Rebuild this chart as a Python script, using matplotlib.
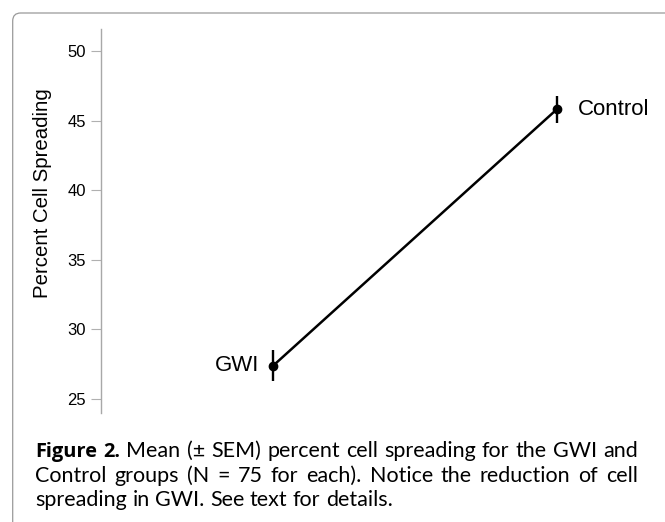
import matplotlib.pyplot as plt
from matplotlib.patches import FancyBboxPatch

groups = ["GWI", "Control"]
means = [27.4, 45.8]
sem = [1.1, 1.0]
yticks = [25, 30, 35, 40, 45, 50]

caption = [
    "Figure 2. Mean (± SEM) percent cell spreading for the GWI and",
    "Control groups (N = 75 for each). Notice the reduction of cell",
    "spreading in GWI. See text for details.",
]

W, H = 665, 522
fig = plt.figure(figsize=(W / 100, H / 100), dpi=100)

# rounded frame, runs off the right and bottom edges
frame = FancyBboxPatch((12.7, -60), 720, 509 + 60, boxstyle="round,pad=0,rounding_size=8",
                       transform=None, facecolor="none", edgecolor="#9a9a9a", linewidth=0.9)
fig.patches.append(frame)

ax = fig.add_axes([101 / W, 1 - 413 / H, (640 - 101) / W, (413 - 29) / H])
ax.set_facecolor("none")
x = list(range(len(groups)))
ax.errorbar(x, means, yerr=sem, fmt="o-", color="black", lw=1.8, elinewidth=1.7,
            capsize=0, markersize=6)

ax.annotate(groups[0], (x[0], means[0]), xytext=(-10, 0), textcoords="offset points",
            ha="right", va="center", fontsize=16, family="Liberation Sans")
ax.annotate(groups[1], (x[1], means[1]), xytext=(15, 0), textcoords="offset points",
            ha="left", va="center", fontsize=16, family="Liberation Sans")

ax.set_xlim(-0.608, 1.294)
ax.set_ylim(23.99, 51.58)
ax.set_yticks(yticks)
ax.set_xticks([])
for s in ["top", "right", "bottom"]:
    ax.spines[s].set_visible(False)
ax.spines["left"].set_color("#a8a8a8")
ax.spines["left"].set_linewidth(1.0)
ax.tick_params(axis="y", length=7.2, width=0.8, color="#b0b0b0", pad=3.6, labelsize=12)
for lab in ax.get_yticklabels():
    lab.set_family("Liberation Sans")

fig.text(43 / W, 1 - 193 / H, "Percent Cell Spreading", rotation=90, ha="center", va="center",
         fontsize=14.7, family="Liberation Sans")

# justified caption
fig.canvas.draw()
r = fig.canvas.get_renderer()
x0, x1 = 35, 638
baselines = [457, 482, 506]
cap_font = "Lato"
bold_font = "Open Sans"


def style(first, j):
    if first and j < 2:
        return dict(family=bold_font, weight="bold")
    return dict(family=cap_font, weight="normal")


def word_widths(words, fs, first):
    out = []
    for j, w in enumerate(words):
        sz = fs * 0.93 if first and j < 2 else fs
        t = fig.text(0, 0, w, fontsize=sz, transform=None, **style(first, j))
        out.append(t.get_window_extent(r).width)
        t.remove()
    return out


def space_width(fs):
    a = fig.text(0, 0, "a a", fontsize=fs, family=cap_font, transform=None)
    b = fig.text(0, 0, "aa", fontsize=fs, family=cap_font, transform=None)
    d = a.get_window_extent(r).width - b.get_window_extent(r).width
    a.remove()
    b.remove()
    return d


fs = 15.5
while True:
    sw = space_width(fs)
    ok = True
    for i, line in enumerate(caption[:-1]):
        words = line.split(" ")
        gap = (x1 - x0 - sum(word_widths(words, fs, i == 0))) / (len(words) - 1)
        if gap < 0.9 * sw:
            ok = False
    if ok:
        break
    fs -= 0.25

sw = space_width(fs)
for i, line in enumerate(caption):
    words = line.split(" ")
    widths = word_widths(words, fs, i == 0)
    if i < len(caption) - 1:
        gap = (x1 - x0 - sum(widths)) / (len(words) - 1)
    else:
        gap = sw
    pos = x0
    for j, (w, wd) in enumerate(zip(words, widths)):
        sz = fs * 0.93 if i == 0 and j < 2 else fs
        fig.text(pos, H - baselines[i], w, fontsize=sz, va="baseline", ha="left",
                 transform=None, **style(i == 0, j))
        pos += wd + gap

fig.savefig("out.png", dpi=100)
